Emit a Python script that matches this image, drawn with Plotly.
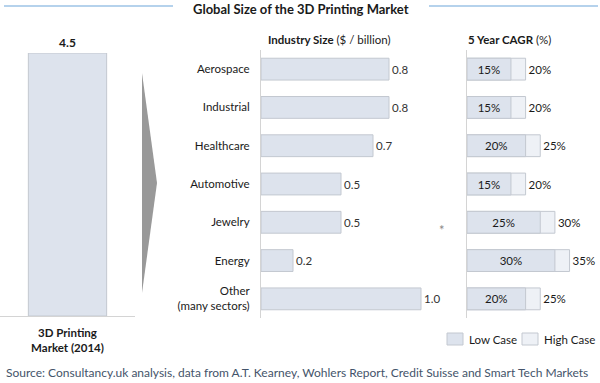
import plotly.graph_objects as go

W, H = 600, 383

# ---- data ----
market_label = ["3D Printing<br>Market (2014)"]
market_value = [4.5]

industries = ["Aerospace", "Industrial", "Healthcare", "Automotive", "Jewelry", "Energy",
              "Other<br>(many sectors)"]
industry_size = [0.8, 0.8, 0.7, 0.5, 0.5, 0.2, 1.0]
cagr_low = [15, 15, 20, 15, 25, 30, 20]
cagr_high = [20, 20, 25, 20, 30, 35, 25]
legend_names = ["Low Case", "High Case"]

FONT = "Lato"
LOW_FILL = "#dde3ed"
HIGH_FILL = "#eef1f6"
EDGE = "#c3c8d0"
AXIS = "#d4d4d4"
TXT = "#1a1a1a"

def px_x(p):
    return p / W

def px_y(p):
    return 1 - p / H

fig = go.Figure()

# left panel: total market
fig.add_trace(go.Bar(
    x=market_label, y=market_value, xaxis="x", yaxis="y",
    marker=dict(color=LOW_FILL, line=dict(color=EDGE, width=1)),
    width=0.58, text=[f"{v:.1f}" for v in market_value], textposition="outside",
    textfont=dict(family=FONT, size=12, color=TXT, weight="bold"), cliponaxis=False,
    showlegend=False, hoverinfo="skip",
))

# middle panel: industry size
fig.add_trace(go.Bar(
    y=industries, x=industry_size, orientation="h", xaxis="x2", yaxis="y2",
    marker=dict(color=LOW_FILL, line=dict(color=EDGE, width=1)),
    width=0.57, text=[f"{v:.1f}" for v in industry_size], textposition="outside",
    textfont=dict(family=FONT, size=11.5, color="#333333"), cliponaxis=False,
    showlegend=False, hoverinfo="skip",
))

# right panel: CAGR high (behind) and low (front)
fig.add_trace(go.Bar(
    y=industries, x=cagr_high, orientation="h", xaxis="x3", yaxis="y3",
    name=legend_names[1], showlegend=False,
    marker=dict(color=HIGH_FILL, line=dict(color=EDGE, width=1)),
    width=0.57, text=[f"{v}%" for v in cagr_high], textposition="outside",
    textfont=dict(family=FONT, size=11.5, color=TXT), cliponaxis=False,
    hoverinfo="skip",
))
fig.add_trace(go.Bar(
    y=industries, x=cagr_low, orientation="h", xaxis="x3", yaxis="y3",
    name=legend_names[0], showlegend=False,
    marker=dict(color=LOW_FILL, line=dict(color=EDGE, width=1)),
    width=0.57, text=[f"{v}%" for v in cagr_low], textposition="inside",
    insidetextanchor="middle", constraintext="none",
    textfont=dict(family=FONT, size=11.5, color=TXT), cliponaxis=False,
    hoverinfo="skip",
))

cat_top, cat_bot = 50, 318

fig.update_layout(
    width=W, height=H,
    margin=dict(l=0, r=0, t=0, b=0, autoexpand=False),
    paper_bgcolor="white", plot_bgcolor="white",
    barmode="overlay",
    font=dict(family=FONT, color=TXT),
    xaxis=dict(domain=[0, px_x(135)], type="category", range=[-0.5, 0.5],
               showline=True, linecolor=AXIS, linewidth=1, showgrid=False,
               ticks="outside", ticklen=6, tickcolor="rgba(0,0,0,0)",
               tickfont=dict(family=FONT, size=11.5, color=TXT, weight="bold"),
               fixedrange=True),
    yaxis=dict(domain=[px_y(316), px_y(53)], range=[0, 4.5], visible=False,
               fixedrange=True),
    xaxis2=dict(domain=[px_x(261), px_x(431)], range=[0, 170 / 160], visible=False,
                fixedrange=True),
    yaxis2=dict(domain=[px_y(cat_bot), px_y(cat_top)], anchor="x2",
                type="category", autorange="reversed",
                showline=True, linecolor=AXIS, linewidth=1, showgrid=False,
                ticks="outside", ticklen=8, tickcolor="rgba(0,0,0,0)",
                tickfont=dict(family=FONT, size=11.5, color=TXT), fixedrange=True),
    xaxis3=dict(domain=[px_x(467), px_x(599)], range=[0, 132 / 2.93], visible=False,
                anchor="y3", fixedrange=True),
    yaxis3=dict(domain=[px_y(cat_bot), px_y(cat_top)], anchor="x3",
                type="category", autorange="reversed",
                showline=True, linecolor=AXIS, linewidth=1, showgrid=False,
                showticklabels=False, ticks="", fixedrange=True),
    showlegend=False,
)

annotations = [
    dict(text="<b>Global Size of the 3D Printing Market</b>", x=px_x(301), y=px_y(9),
         font=dict(size=13, color=TXT)),
    dict(text="<b>Industry Size</b> ($ / billion)", x=px_x(266), y=px_y(40),
         xanchor="left", font=dict(size=11.5, color=TXT)),
    dict(text="<b>5 Year CAGR</b> (%)", x=px_x(466), y=px_y(40),
         xanchor="left", font=dict(size=11.5, color=TXT)),
    dict(text="*", x=px_x(442), y=px_y(230), font=dict(size=13, color="#888888")),
    dict(text="Source: Consultancy.uk analysis, data from A.T. Kearney, Wohlers Report, Credit Suisse and Smart Tech Markets",
         x=px_x(4), y=px_y(372), xanchor="left", font=dict(size=12, color="#44546a")),
    # manual legend labels
    dict(text=legend_names[0], x=px_x(467), y=px_y(339), xanchor="left",
         font=dict(size=11.5, color=TXT)),
    dict(text=legend_names[1], x=px_x(542), y=px_y(339), xanchor="left",
         font=dict(size=11.5, color=TXT)),
]
for a in annotations:
    a.update(xref="paper", yref="paper", showarrow=False, yanchor="middle")
    a.setdefault("xanchor", "center")
    a["font"].setdefault("family", FONT)
fig.update_layout(annotations=annotations)

shapes = [
    dict(type="line", x0=px_x(4), x1=px_x(173), y0=px_y(6), y1=px_y(6),
         line=dict(color="#9dc3e6", width=1.5)),
    dict(type="line", x0=px_x(429), x1=px_x(598), y0=px_y(6), y1=px_y(6),
         line=dict(color="#9dc3e6", width=1.5)),
    dict(type="path",
         path=f"M {px_x(142)} {px_y(73)} L {px_x(157)} {px_y(183)} L {px_x(142)} {px_y(293)} Z",
         fillcolor="#999999", line=dict(width=0)),
    # manual legend swatches
    dict(type="rect", x0=px_x(447), x1=px_x(463), y0=px_y(345), y1=px_y(333),
         fillcolor=LOW_FILL, line=dict(color=EDGE, width=1)),
    dict(type="rect", x0=px_x(522), x1=px_x(538), y0=px_y(345), y1=px_y(333),
         fillcolor=HIGH_FILL, line=dict(color=EDGE, width=1)),
]
for s in shapes:
    s.update(xref="paper", yref="paper")
fig.update_layout(shapes=shapes)

fig.write_html("out.html", config={"displayModeBar": False, "staticPlot": True},
               post_script="document.body.style.margin='0';document.body.style.overflow='hidden';")
